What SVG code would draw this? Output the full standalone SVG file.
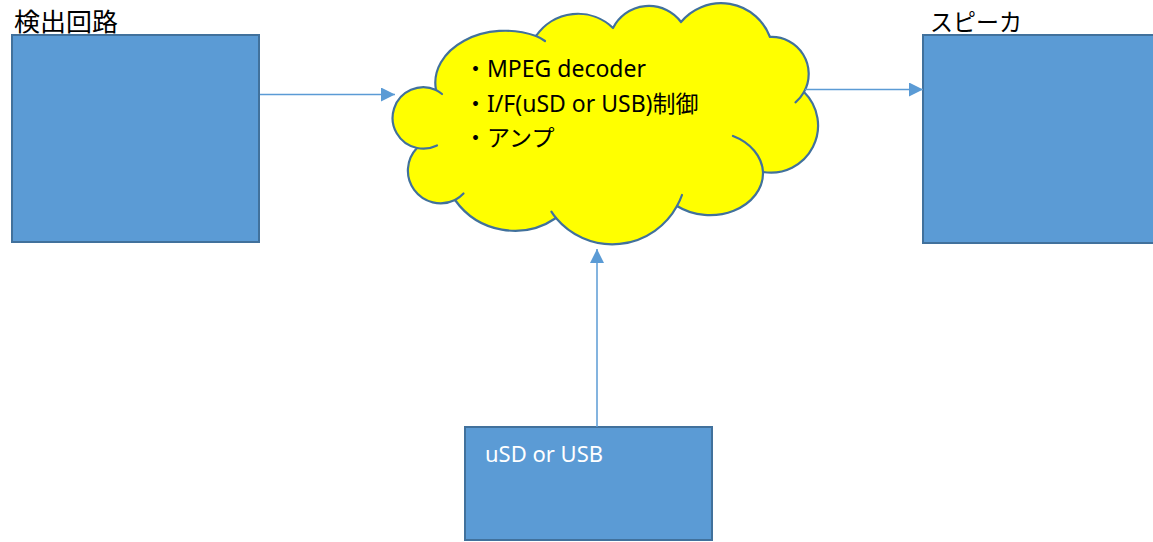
<svg xmlns="http://www.w3.org/2000/svg" width="1153" height="542" viewBox="0 0 1153 542">
<style>
.box{fill:#5B9BD5;stroke:#41719C;stroke-width:2}
.cloud{fill:#FFFF00;stroke:#41719C;stroke-width:2.2;stroke-linejoin:round}
.inner{fill:none;stroke:#41719C;stroke-width:2.2;stroke-linecap:round}
.conn{fill:none;stroke:#5B9BD5;stroke-width:1.5}
.lbl{font-family:"Noto Sans CJK JP","Noto Sans",sans-serif;font-size:24px;fill:#000}
.ct{font-family:"Noto Sans","Noto Sans CJK JP",sans-serif;font-size:23px;fill:#000}
.wt{font-family:"Noto Sans","Noto Sans CJK JP",sans-serif;font-size:22px;fill:#FFFFFF}
</style>
<defs>
<marker id="ah" viewBox="0 0 10 10" refX="10" refY="5" markerWidth="14" markerHeight="14" markerUnits="userSpaceOnUse" orient="auto">
<path d="M0,0 L10,5 L0,10 z" fill="#5B9BD5"/>
</marker>
</defs>
<rect width="1153" height="542" fill="#FFFFFF"/>
<g id="detector">
<rect class="box" x="12" y="35" width="247" height="207"/>
<text class="lbl" x="14" y="31" style="font-size:25px" textLength="104" lengthAdjust="spacingAndGlyphs">検出回路</text>
</g>
<g id="speaker">
<rect class="box" x="923" y="35" width="240" height="208"/>
<text class="lbl" x="930" y="31" textLength="92" lengthAdjust="spacingAndGlyphs">スピーカ</text>
</g>
<g id="storage">
<rect class="box" x="465" y="427" width="247" height="113"/>
<text class="wt" x="485" y="462">uSD or USB</text>
</g>
<g id="processor">
<path class="cloud" d="M417,148 A30.7,30.7 0 1 1 436,90 A70,52 0 0 1 536,36 A50.6,50.6 0 0 1 613,28 A40.2,40.2 0 0 1 681,22 A52.2,52.2 0 0 1 770,37 A37,37 0 0 1 804,92 A47.1,47.1 0 0 1 763,172 A53,42 0 0 1 677,206 A73.6,73.6 0 0 1 556,218 A73.2,73.2 0 0 1 455,200 A32.7,32.7 0 0 1 417,148 Z"/>
<path class="inner" d="M437,145.5 A30.7,30.7 0 0 1 417,148"/>
<path class="inner" d="M436,90 A30.7,30.7 0 0 1 442,94"/>
<path class="inner" d="M536,36 Q541,38 545,41"/>
<path class="inner" d="M804,92 A37,37 0 0 1 795.5,102.3"/>
<path class="inner" d="M733,136 A53,42 0 0 1 763,172"/>
<path class="inner" d="M682,195 A73.6,73.6 0 0 1 677,206"/>
<path class="inner" d="M556,218 A73.6,73.6 0 0 1 551.4,211.6"/>
<path class="inner" d="M463.5,193.5 A32.7,32.7 0 0 1 455,200"/>
<text class="ct" x="464" y="77">・MPEG decoder</text>
<text class="ct" x="464" y="112">・I/F(uSD or USB)制御</text>
<text class="ct" x="464" y="146">・アンプ</text>
</g>
<g id="connectors">
<line class="conn" x1="260" y1="94.5" x2="395" y2="94.5" marker-end="url(#ah)"/>
<line class="conn" x1="805" y1="89.5" x2="923" y2="89.5" marker-end="url(#ah)"/>
<line class="conn" x1="597" y1="427" x2="597" y2="249" marker-end="url(#ah)"/>
</g>
</svg>
